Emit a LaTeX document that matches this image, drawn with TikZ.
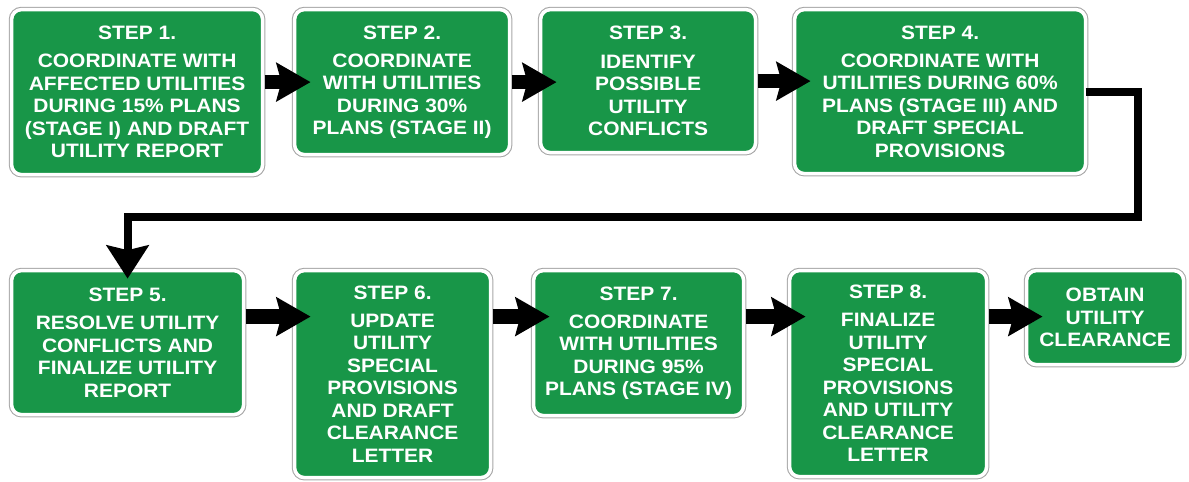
\documentclass[tikz,border=0pt]{standalone}
\usepackage{fontspec}
\setmainfont{Liberation Sans}[FakeStretch=1.08]
\usepackage{xcolor}
\usetikzlibrary{arrows.meta,positioning,calc}
\definecolor{signgreen}{RGB}{24,150,72}

\begin{document}
\begin{tikzpicture}[
  sign/.style={draw=white, line width=2.5pt, fill=signgreen, rounded corners=7pt, align=center, text=white, inner sep=0pt, outer sep=0pt,
    font=\bfseries\fontsize{13.8}{16}\selectfont, preaction={draw=gray!70, line width=4pt}},
  arr/.style={-{Stealth[length=8.5mm, width=9.5mm, inset=1.2mm]}, line width=10.5pt, shorten >=-4mm, shorten <=0.5mm},
  backarr/.style={-{Stealth[length=8.3mm, width=10.5mm, inset=1.2mm]}, line width=5.7pt, shorten >=-2mm}]
\useasboundingbox (0,0) rectangle (29.725,-12.025);
% top row
\node[sign, minimum width=6.275cm, minimum height=4.125cm, anchor=north west] (s1) at (0.29,-0.24)
  {STEP 1.\\[4pt]COORDINATE WITH\\AFFECTED UTILITIES\\DURING 15\% PLANS\\(STAGE I) AND DRAFT\\UTILITY REPORT};
\node[sign, minimum width=5.375cm, minimum height=3.625cm, right=0.8cm of s1.north east, anchor=north west] (s2)
  {STEP 2.\\[4pt]COORDINATE\\WITH UTILITIES\\DURING 30\%\\PLANS (STAGE II)};
\node[sign, minimum width=5.375cm, minimum height=3.575cm, right=0.775cm of s2.north east, anchor=north west] (s3)
  {STEP 3.\\[4pt]IDENTIFY\\POSSIBLE\\UTILITY\\CONFLICTS};
\node[sign, minimum width=7.275cm, minimum height=4.1cm, right=0.975cm of s3.north east, anchor=north west] (s4)
  {STEP 4.\\[4pt]COORDINATE WITH\\UTILITIES DURING 60\%\\PLANS (STAGE III) AND\\DRAFT SPECIAL\\PROVISIONS};
% bottom row
\node[sign, minimum width=5.8cm, minimum height=3.6cm, below=2.4cm of s1.south west, anchor=north west] (s5)
  {STEP 5.\\[4pt]RESOLVE UTILITY\\CONFLICTS AND\\FINALIZE UTILITY\\REPORT};
\node[sign, minimum width=4.9cm, minimum height=5.175cm, right=1.275cm of s5.north east, anchor=north west] (s6)
  {STEP 6.\\[4pt]UPDATE\\UTILITY\\SPECIAL\\PROVISIONS\\AND DRAFT\\CLEARANCE\\LETTER};
\node[sign, minimum width=5.25cm, minimum height=3.625cm, right=1.075cm of s6.north east, anchor=north west] (s7)
  {STEP 7.\\[4pt]COORDINATE\\WITH UTILITIES\\DURING 95\%\\PLANS (STAGE IV)};
\node[sign, minimum width=4.925cm, minimum height=5.15cm, right=1.15cm of s7.north east, anchor=north west] (s8)
  {STEP 8.\\[4pt]FINALIZE\\UTILITY\\SPECIAL\\PROVISIONS\\AND UTILITY\\CLEARANCE\\LETTER};
\node[sign, minimum width=3.925cm, minimum height=2.35cm, right=1cm of s8.north east, anchor=north west] (s9)
  {OBTAIN\\UTILITY\\CLEARANCE};
% arrows
\draw[arr] (s1.east |- s2.west) -- (s2.west);
\draw[arr] (s2.east) -- (s3.west |- s2.east);
\draw[arr] (s3.east) -- (s4.west |- s3.east);
\draw[backarr] (s4.east) -- ++(1.3cm,0) |- ($(s5.north)+(0,1.35cm)$) -- (s5.north);
\draw[arr] ([yshift=-1.15cm]s5.north east) -- ([yshift=-1.15cm]s6.north west);
\draw[arr] ([yshift=-1.15cm]s6.north east) -- ([yshift=-1.15cm]s7.north west);
\draw[arr] ([yshift=-1.15cm]s7.north east) -- ([yshift=-1.15cm]s8.north west);
\draw[arr] ([yshift=-1.15cm]s8.north east) -- ([yshift=-1.15cm]s9.north west);
\end{tikzpicture}
\end{document}
